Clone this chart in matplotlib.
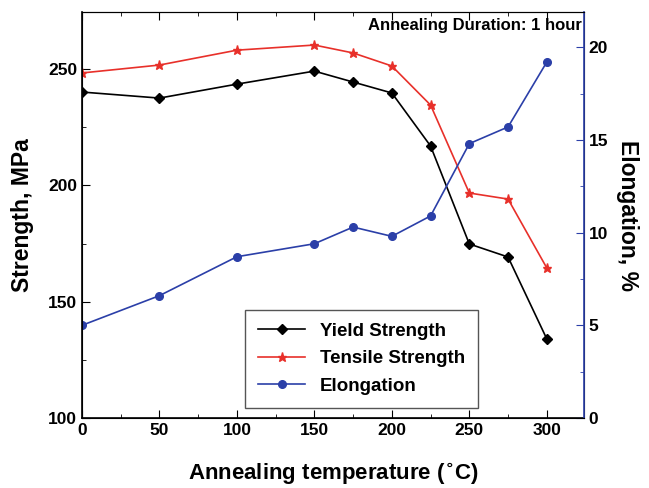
import matplotlib
matplotlib.use('Agg')
import matplotlib.pyplot as plt
from matplotlib.ticker import MultipleLocator

plt.rcParams['font.family'] = ['Liberation Sans', 'DejaVu Sans']
plt.rcParams['font.weight'] = 'bold'

temperature = [0, 50, 100, 150, 175, 200, 225, 250, 275, 300]
yield_strength = [240.1, 237.5, 243.5, 249.1, 244.4, 239.7, 216.9, 174.8, 169.2, 134.0]
tensile_strength = [248.3, 251.7, 258.1, 260.3, 256.9, 251.3, 234.5, 196.7, 194.1, 164.5]
elongation = [5.0, 6.6, 8.7, 9.4, 10.3, 9.8, 10.9, 14.8, 15.7, 19.2]

blue = '#2b3fa8'
red = '#e8302a'

fig = plt.figure(figsize=(6.49, 4.88), dpi=100)
ax = fig.add_axes([0.1263, 0.1434, 0.7735, 0.832])
ax2 = ax.twinx()

l1, = ax.plot(temperature, yield_strength, color='black', marker='D',
              markersize=5.5, lw=1.2, label='Yield Strength')
l2, = ax.plot(temperature, tensile_strength, color=red, marker='*',
              markersize=6.5, lw=1.2, label='Tensile Strength')
l3, = ax2.plot(temperature, elongation, color=blue, marker='o',
               markersize=5.5, lw=1.2, label='Elongation')

ax.set_xlim(0, 324)
ax.set_ylim(100, 274.5)
ax2.set_ylim(0, 21.9)

ax.xaxis.set_major_locator(MultipleLocator(50))
ax.xaxis.set_minor_locator(MultipleLocator(25))
ax.yaxis.set_major_locator(MultipleLocator(50))
ax.yaxis.set_minor_locator(MultipleLocator(25))
ax2.yaxis.set_major_locator(MultipleLocator(5))
ax2.yaxis.set_minor_locator(MultipleLocator(2.5))

ax.tick_params(axis='both', which='both', direction='in', labelsize=12.5)
ax.tick_params(axis='x', which='both', top=True)
ax.tick_params(which='major', length=6)
ax.tick_params(which='minor', length=3)
ax.tick_params(axis='y', which='both', right=False)
ax2.tick_params(axis='y', which='both', direction='in', colors='black',
                labelsize=12.5)
ax2.tick_params(which='major', length=6, color=blue)
ax2.tick_params(which='minor', length=3, color=blue)
ax2.spines['right'].set_color(blue)
ax2.spines['right'].set_linewidth(1.2)
ax.spines['left'].set_linewidth(1.2)
ax.spines['bottom'].set_linewidth(1.2)

ax.set_xlabel('Annealing temperature ($^{\\circ}$C)', fontsize=16,
              fontweight='bold', labelpad=17)
ax.set_ylabel('Strength, MPa', fontsize=16.5, fontweight='bold', labelpad=10)
ax2.set_ylabel('Elongation, %', fontsize=16.5, fontweight='bold',
               rotation=270, labelpad=22)

ax.text(0.995, 0.985, 'Annealing Duration: 1 hour', transform=ax.transAxes,
        ha='right', va='top', fontsize=12, fontweight='bold')

leg = ax.legend(handles=[l1, l2, l3], loc='lower left',
                bbox_to_anchor=(0.325, 0.025), fontsize=13.5,
                fancybox=False, edgecolor='#555555', framealpha=1,
                handlelength=2.5, borderpad=0.7, labelspacing=0.55,
                borderaxespad=0)
leg.get_frame().set_linewidth(1.0)

fig.savefig('out.png', dpi=100)
